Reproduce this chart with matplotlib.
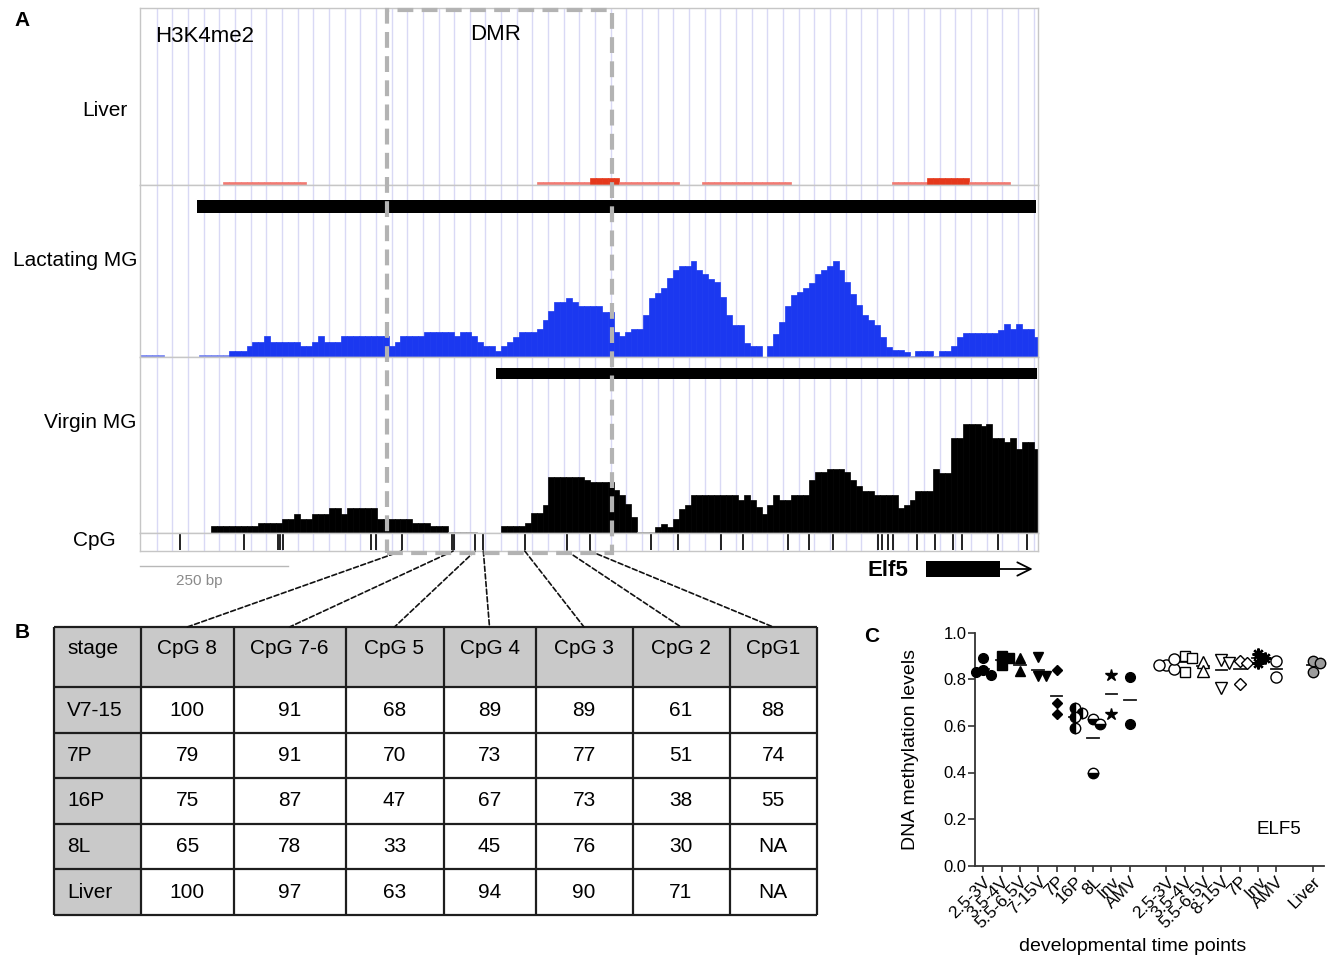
import numpy as np
import matplotlib
matplotlib.use("Agg")
import matplotlib.pyplot as plt
from matplotlib.patches import Rectangle, ConnectionPatch
from matplotlib.transforms import blended_transform_factory

plt.rcParams["font.family"] = ["Liberation Sans", "DejaVu Sans"]

W, H = 1329, 958

# ---------------------------------------------------------------------------
# Data
# ---------------------------------------------------------------------------
BIN = 10          # bp per coverage window
region_bp = 1517  # width of the browser window

# H3K4me2 coverage in 10 bp windows (browser pixel units)
liver_h3k4me2 = [
    0, 0, 0, 0, 0, 0, 0, 0, 0, 0, 0, 0, 0, 0, 3, 3, 3, 3, 3,
    3, 3, 3, 3, 3, 3, 3, 3, 3, 0, 0, 0, 0, 0, 0, 0, 0, 0, 0,
    0, 0, 0, 0, 0, 0, 0, 0, 0, 0, 0, 0, 0, 0, 0, 0, 0, 0, 0,
    0, 0, 0, 0, 0, 0, 0, 0, 0, 0, 3, 3, 3, 3, 3, 3, 3, 3, 3,
    7, 7, 7, 7, 7, 3, 3, 3, 3, 3, 3, 3, 3, 3, 3, 0, 0, 0, 0,
    3, 3, 3, 3, 3, 3, 3, 3, 3, 3, 3, 3, 3, 3, 3, 0, 0, 0, 0,
    0, 0, 0, 0, 0, 0, 0, 0, 0, 0, 0, 0, 0, 3, 3, 3, 3, 3, 3,
    7, 7, 7, 7, 7, 7, 7, 3, 3, 3, 3, 3, 3, 3, 0, 0, 0, 0, 0,
]
lactating_h3k4me2 = [
    2, 2, 2, 2, 0, 0, 0, 0, 0, 0, 2, 2, 2, 2, 2, 6, 6, 6, 11,
    15, 15, 21, 15, 15, 15, 15, 15, 11, 11, 15, 21, 15, 15, 15, 21, 21, 21, 21,
    21, 21, 21, 21, 11, 15, 21, 21, 21, 21, 25, 25, 25, 25, 25, 21, 25, 25, 21,
    15, 11, 11, 6, 11, 15, 20, 25, 25, 25, 28, 37, 46, 55, 55, 59, 55, 51, 51,
    51, 51, 45, 45, 25, 21, 25, 28, 28, 42, 59, 64, 69, 79, 87, 91, 91, 96, 87,
    83, 78, 75, 60, 42, 32, 32, 14, 11, 11, 0, 11, 23, 35, 51, 62, 65, 69, 74,
    83, 87, 91, 96, 87, 75, 63, 52, 42, 37, 32, 20, 10, 7, 7, 5, 1, 6, 6,
    6, 1, 6, 6, 11, 20, 24, 24, 24, 24, 24, 24, 27, 33, 28, 33, 28, 28, 20,
]
virgin_h3k4me2 = [
    0, 0, 0, 0, 0, 0, 0, 0, 0, 0, 0, 0, 7, 7, 7, 7, 7, 7, 7,
    7, 10, 10, 10, 10, 14, 14, 19, 14, 14, 19, 19, 19, 25, 25, 19, 25, 25, 25,
    25, 25, 14, 14, 14, 14, 14, 14, 10, 10, 10, 7, 7, 7, 1, 1, 1, 1, 1,
    0, 0, 0, 0, 7, 7, 7, 7, 10, 20, 20, 28, 56, 56, 56, 56, 56, 56, 53,
    51, 51, 51, 51, 43, 38, 29, 16, 1, 1, 1, 6, 9, 6, 14, 24, 28, 38, 38,
    38, 38, 38, 38, 38, 38, 33, 38, 33, 26, 19, 28, 38, 33, 33, 38, 38, 38, 53,
    61, 61, 64, 64, 64, 61, 53, 47, 42, 42, 38, 38, 38, 38, 25, 28, 33, 42, 42,
    42, 64, 60, 60, 95, 95, 109, 109, 109, 107, 109, 95, 95, 91, 95, 84, 91, 91, 84,
]
lactating_peak = (96, 1513)
virgin_peak = (601, 1515)
cpg_sites = [68, 175, 233, 237, 241, 390, 399, 442, 527, 531, 566, 580, 650, 721,
             760, 863, 909, 981, 1018, 1095, 1130, 1170, 1247, 1254, 1263, 1272,
             1313, 1343, 1373, 1388, 1450, 1498]
dmr = (417, 797)
dmr_cpg_sites = [442, 529, 566, 580, 650, 721, 760]   # CpG 8 ... CpG1
elf5_exon = (1328, 1452)
elf5_arrow_end = 1508
scale_bar_bp = 250

# Panel B: % methylation per CpG
table_columns = ["CpG 8", "CpG 7-6", "CpG 5", "CpG 4", "CpG 3", "CpG 2", "CpG1"]
table_stages = ["V7-15", "7P", "16P", "8L", "Liver"]
table_values = [
    [100, 91, 68, 89, 89, 61, 88],
    [79, 91, 70, 73, 77, 51, 74],
    [75, 87, 47, 67, 73, 38, 55],
    [65, 78, 33, 45, 76, 30, "NA"],
    [100, 97, 63, 94, 90, 71, "NA"],
]

# Panel C: ELF5 DNA methylation levels
elf5_labels = ["2.5-3V", "3.5-4V", "5.5-6.5V", "7-15V", "7P", "16P", "8L", "Inv", "AMV",
               "2.5-3V", "3.5-4V", "5.5-6.5V", "8-15V", "7P", "Inv", "AMV", "Liver"]
elf5_values = [
    [0.84, 0.89, 0.82, 0.83],
    [0.90, 0.86, 0.89],
    [0.89, 0.835],
    [0.895, 0.815, 0.815],
    [0.84, 0.65, 0.70],
    [0.59, 0.675, 0.655, 0.64],
    [0.63, 0.61, 0.40],
    [0.82, 0.65],
    [0.81, 0.61],
    [0.86, 0.845, 0.885, 0.86],
    [0.90, 0.89, 0.83],
    [0.875, 0.835],
    [0.883, 0.871, 0.761],
    [0.88, 0.87, 0.78],
    [0.91, 0.87, 0.89],
    [0.88, 0.81],
    [0.88, 0.87, 0.83],
]


def px_rect(x0, y0, x1, y1):
    return [x0 / W, 1 - y1 / H, (x1 - x0) / W, (y1 - y0) / H]


def fy(y):
    return 1 - y / H


fig = plt.figure(figsize=(W / 100, H / 100), dpi=100)

# ---------------------------------------------------------------------------
# Panel A: browser tracks
# ---------------------------------------------------------------------------
X0, X1 = 140, 1038
grid_bp = np.arange(28.2, region_bp, 26.45)
bin_left = np.arange(len(lactating_h3k4me2)) * BIN


def track_axes(y0, y1):
    ax = fig.add_axes(px_rect(X0, y0, X1, y1))
    ax.set_xlim(0, region_bp)
    ax.set_ylim(0, y1 - y0)
    ax.set_xticks([]); ax.set_yticks([])
    for s in ax.spines.values():
        s.set_color("#c6c6c6"); s.set_linewidth(1.0)
    ax.vlines(grid_bp, 0, y1 - y0, color="#d9d9f5", lw=1.0, zorder=0)
    return ax


def coverage(ax, vals, strong, weak, cut):
    vals = np.asarray(vals)
    cols = [strong if v > cut else weak for v in vals]
    ax.bar(bin_left, vals, width=BIN, align="edge", color=cols, edgecolor=cols,
           lw=0.5, zorder=2)


ax_liv = track_axes(8, 185)
coverage(ax_liv, liver_h3k4me2, "#e5381b", "#f27a72", 4)

ax_lac = track_axes(185, 357)
coverage(ax_lac, lactating_h3k4me2, "#1b38f0", "#7382f2", 2)
tr = blended_transform_factory(ax_lac.transData, ax_lac.transAxes)
ax_lac.add_patch(Rectangle((lactating_peak[0], 0.837), lactating_peak[1] - lactating_peak[0],
                           0.076, transform=tr, color="black", lw=0, zorder=3))

ax_vir = track_axes(357, 533)
coverage(ax_vir, virgin_h3k4me2, "black", "#9a9a9a", 1)
tr = blended_transform_factory(ax_vir.transData, ax_vir.transAxes)
ax_vir.add_patch(Rectangle((virgin_peak[0], 0.875), virgin_peak[1] - virgin_peak[0],
                           0.0625, transform=tr, color="black", lw=0, zorder=3))

ax_cpg = track_axes(533, 551)
ax_cpg.vlines(cpg_sites, 1, 17, color="#111111", lw=1.3, zorder=2)

# DMR box, scale bar and gene model (x in bp, y in figure)
bt = blended_transform_factory(ax_cpg.transData, fig.transFigure)
fig.add_artist(Rectangle((dmr[0], fy(553)), dmr[1] - dmr[0], fy(10) - fy(553),
                         transform=bt, fill=False, ec="#b3b3b3", lw=3,
                         ls=(0, (3.8, 2.0)), zorder=10, clip_on=False))
fig.add_artist(plt.Line2D([0, scale_bar_bp], [fy(566), fy(566)], transform=bt,
                          color="#b8b8b8", lw=1.0))
fig.text(199 / W, fy(581), "250 bp", ha="center", va="center", fontsize=11,
         color="#8a8a8a")
fig.add_artist(Rectangle((elf5_exon[0], fy(577)), elf5_exon[1] - elf5_exon[0],
                         fy(561) - fy(577), transform=bt, color="black", lw=0))
ax_cpg.annotate("", xy=(elf5_arrow_end, fy(569)), xytext=(elf5_exon[1], fy(569)),
                xycoords=bt, textcoords=bt, annotation_clip=False,
                arrowprops=dict(arrowstyle="->", lw=1.3, color="black",
                                mutation_scale=24, shrinkA=0, shrinkB=0))
fig.text(908 / W, fy(570), "Elf5", ha="right", va="center", fontsize=16,
         fontweight="bold")

# labels
fig.text(128 / W, fy(110), "Liver", ha="right", va="center", fontsize=15)
fig.text(137 / W, fy(261), "Lactating MG", ha="right", va="center", fontsize=15)
fig.text(136 / W, fy(423), "Virgin MG", ha="right", va="center", fontsize=15)
fig.text(116 / W, fy(541), "CpG", ha="right", va="center", fontsize=15)
fig.text(155 / W, fy(36), "H3K4me2", ha="left", va="center", fontsize=16)
fig.text(496 / W, fy(35), "DMR", ha="center", va="center", fontsize=16)
fig.text(22 / W, fy(20), "A", ha="center", va="center", fontsize=15, fontweight="bold")
fig.text(22 / W, fy(633), "B", ha="center", va="center", fontsize=15, fontweight="bold")
fig.text(872 / W, fy(636), "C", ha="center", va="center", fontsize=15, fontweight="bold")

# ---------------------------------------------------------------------------
# Panel B: table
# ---------------------------------------------------------------------------
col_w = [87, 92.5, 112, 98, 92, 97, 97, 87.5]
row_h = [60, 46, 45, 46, 45, 46]
axt = fig.add_axes(px_rect(54, 627, 817, 915))
axt.set_xlim(0, sum(col_w)); axt.set_ylim(sum(row_h), 0)
axt.axis("off")
xe = np.concatenate([[0], np.cumsum(col_w)])
ye = np.concatenate([[0], np.cumsum(row_h)])
rows = [["stage"] + table_columns] + [[s] + v for s, v in zip(table_stages, table_values)]
for r, row in enumerate(rows):
    for c, val in enumerate(row):
        gray = r == 0 or c == 0
        axt.add_patch(Rectangle((xe[c], ye[r]), col_w[c], row_h[r],
                                fc="#c9c9c9" if gray else "white", ec="none"))
        ty = ye[r] + 22 if r == 0 else (ye[r] + ye[r + 1]) / 2
        if c == 0:
            axt.text(xe[c] + 13, ty, val, ha="left", va="center", fontsize=15)
        else:
            axt.text((xe[c] + xe[c + 1]) / 2, ty, str(val), ha="center", va="center",
                     fontsize=15)
axt.vlines(xe, 0, ye[-1], color="#1e1e1e", lw=1.6, clip_on=False)
axt.hlines(ye, 0, xe[-1], color="#1e1e1e", lw=1.6, clip_on=False)

# connectors from CpG sites to the table columns
for i, site in enumerate(dmr_cpg_sites):
    cx = (xe[i + 1] + xe[i + 2]) / 2
    con = ConnectionPatch(xyA=(site, 0), coordsA=ax_cpg.transData,
                          xyB=(cx, 0), coordsB=axt.transData,
                          color="#111111", lw=1.2, ls=(0, (3, 1.6)))
    fig.add_artist(con)

# ---------------------------------------------------------------------------
# Panel C: ELF5 scatter
# ---------------------------------------------------------------------------
x_pos = list(range(9)) + list(range(10, 17)) + [18]
styles = [
    dict(marker="o", mfc="black", ms=7),
    dict(marker="s", mfc="black", ms=6.5),
    dict(marker="^", mfc="black", ms=7.5),
    dict(marker="v", mfc="black", ms=7.5),
    dict(marker="D", mfc="black", ms=5.2),
    dict(marker="o", mfc="black", mfcalt="white", fillstyle="left", ms=7.5),
    dict(marker="o", mfc="black", mfcalt="white", fillstyle="bottom", ms=7.5),
    dict(marker="*", mfc="black", ms=9),
    dict(marker="o", mfc="black", ms=7),
    dict(marker="o", mfc="white", ms=8),
    dict(marker="s", mfc="white", ms=7.5),
    dict(marker="^", mfc="white", ms=8),
    dict(marker="v", mfc="white", ms=8),
    dict(marker="D", mfc="white", ms=6),
    dict(marker=(8, 2, 0), mfc="black", ms=8.5, mew=1.7),
    dict(marker="o", mfc="white", ms=8),
    dict(marker="o", mfc="#9c9c9c", ms=7.5),
]

axc = fig.add_axes(px_rect(975, 632.7, 1324, 865.7))
for xp, vals, st in zip(x_pos, elf5_values, styles):
    placed = []
    for v in vals:
        for off in (0, 0.4, -0.4, 0.8, -0.8):
            if all(abs(off - po) > 0.3 or abs(v - pv) > 0.03 for po, pv in placed):
                break
        placed.append((off, v))
        st2 = dict(st)
        st2.setdefault("mew", 1.0)
        axc.plot(xp + off, v, ls="none", mec="black", zorder=3, clip_on=False, **st2)
    m = np.mean(vals)
    axc.plot([xp - 0.32, xp + 0.32], [m, m], color="#1a1a1a", lw=1.3, zorder=2)

axc.set_xlim(-0.45, 18.6)
axc.set_ylim(0, 1.0)
axc.set_yticks(np.arange(0, 1.01, 0.2))
axc.set_yticklabels([f"{t:.1f}" for t in np.arange(0, 1.01, 0.2)], fontsize=12)
axc.set_xticks(x_pos)
axc.set_xticklabels(elf5_labels, rotation=45, ha="right", va="top",
                    rotation_mode="anchor", fontsize=12.5)
axc.tick_params(axis="y", length=5, width=1.2, pad=1, colors="#333333", labelcolor="black")
axc.tick_params(axis="x", length=4, width=1.2, pad=2, colors="#333333", labelcolor="black")
for side in ("top", "right"):
    axc.spines[side].set_visible(False)
for side in ("left", "bottom"):
    axc.spines[side].set_linewidth(1.3)
    axc.spines[side].set_color("#333333")
axc.set_ylabel("DNA methylation levels", fontsize=14)
axc.yaxis.set_label_coords(-0.186, 0.5)
axc.set_xlabel("developmental time points", fontsize=14)
axc.xaxis.set_label_coords(0.453, -0.345)
axc.xaxis.label.set_va("center")
axc.yaxis.label.set_va("center")
axc.text(0.87, 0.155, "ELF5", transform=axc.transAxes, ha="center", va="center",
         fontsize=13.5)

fig.savefig("out.png", dpi=100)
